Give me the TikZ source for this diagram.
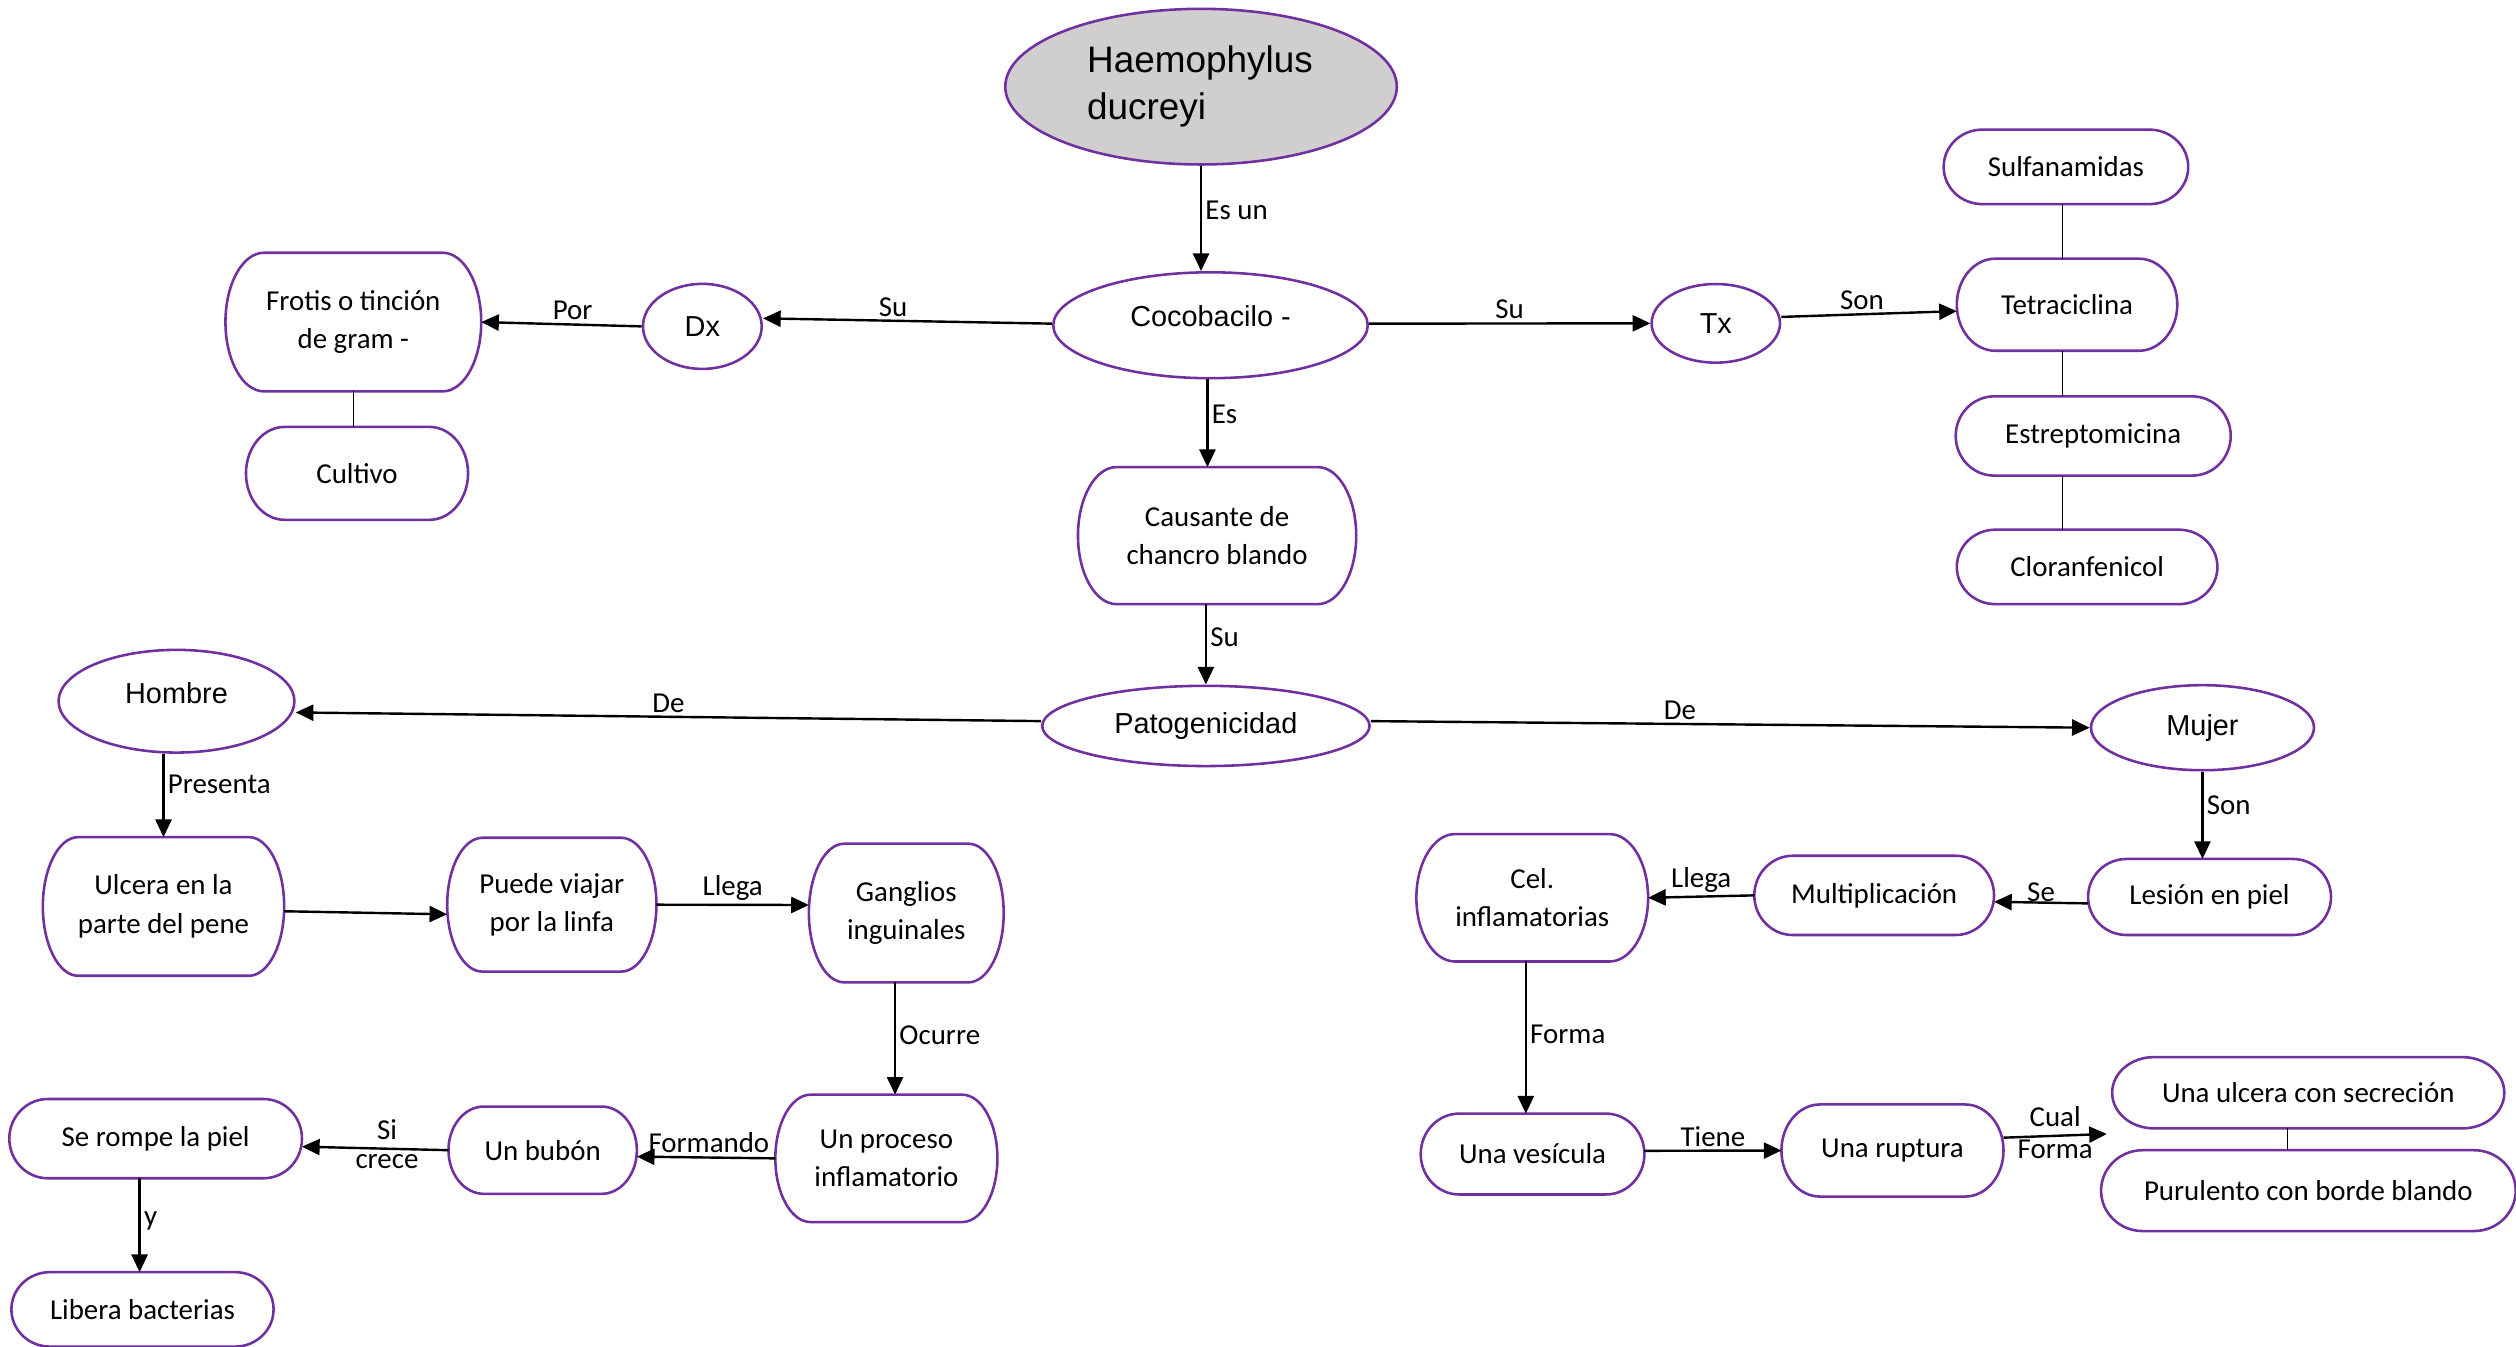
\documentclass[tikz,border=0pt]{standalone}
\usepackage{fontspec}
\setmainfont{Carlito}
\newfontfamily\arialf{Liberation Sans}
\usetikzlibrary{shapes.geometric,arrows.meta,calc}
\definecolor{purp}{HTML}{7030A0}
\definecolor{hgray}{HTML}{D0CECE}
\tikzset{
  ell/.style={ellipse, draw=purp, line width=1.6pt, inner sep=0pt, font=\arialf\fontsize{18}{22}\selectfont},
  tb/.style={rectangle, inner sep=0pt, align=center, font=\fontsize{18}{24}\selectfont},
  arr/.style={line width=1.5pt, -{Triangle[length=11pt,width=10pt]}},
  lbl/.style={font=\fontsize{18}{22}\selectfont, inner sep=2pt},
  link/.style={line width=0.6pt},
  bord/.style={draw=purp, line width=1.6pt}
}
\newcommand\stad[2]{%
  \draw[bord] let \p1=(#1.north west), \p2=(#1.south east), \n1={(\y1-\y2)/2} in
   (\x1+#2pt,\y1) -- (\x2-#2pt,\y1)
   arc[start angle=90,end angle=-90,x radius=#2pt,y radius=\n1]
   -- (\x1+#2pt,\y2)
   arc[start angle=270,end angle=90,x radius=#2pt,y radius=\n1] -- cycle;}
\begin{document}
\begin{tikzpicture}[x=1pt,y=1pt]
\useasboundingbox (0,0) rectangle (1568,-839);
% ellipses
\node[ell, fill=hgray, minimum width=244pt, minimum height=97pt, text width=142pt, align=left, font=\arialf\fontsize{23}{29.5}\selectfont] (hae) at (748.5,-54) {Haemophylus\\ducreyi};
\node[ell, minimum width=196pt, minimum height=66pt, text depth=11pt] (coco) at (754.4,-202.7) {Cocobacilo -};
\node[ell, minimum width=74pt, minimum height=53pt] (dx) at (437.7,-203.4) {Dx};
\node[ell, minimum width=80pt, minimum height=49pt] (tx) at (1069.3,-201.5) {Tx};
\node[ell, minimum width=204pt, minimum height=50pt] (pat) at (751.5,-452.4) {Patogenicidad};
\node[ell, minimum width=147pt, minimum height=64pt, text depth=10pt] (hom) at (110,-437) {Hombre};
\node[ell, minimum width=139pt, minimum height=53pt] (muj) at (1372.6,-453.5) {Mujer};
% boxes
\node[tb, minimum width=159pt, minimum height=86pt] (fro) at (220.2,-200.7) {Frotis o tinción\\de gram -};
\node[tb, minimum width=138pt, minimum height=57.5pt] (cul) at (222.5,-295) {Cultivo};
\node[tb, minimum width=152pt, minimum height=46pt] (sul) at (1287.5,-104) {Sulfanamidas};
\node[tb, minimum width=137pt, minimum height=57pt] (tet) at (1288.2,-189.9) {Tetraciclina};
\node[tb, minimum width=171pt, minimum height=49pt] (est) at (1304.5,-271.7) {Estreptomicina};
\node[tb, minimum width=162pt, minimum height=46pt] (clo) at (1300.7,-353.3) {Cloranfenicol};
\node[tb, minimum width=173pt, minimum height=85pt] (cau) at (758.5,-333.8) {Causante de\\chancro blando};
\node[tb, minimum width=150pt, minimum height=86pt] (ulc) at (101.9,-564.9) {Ulcera en la\\parte del pene};
\node[tb, minimum width=130pt, minimum height=83pt] (pue) at (343.9,-563.8) {Puede viajar\\por la linfa};
\node[tb, minimum width=121pt, minimum height=86pt] (gan) at (564.8,-569) {Ganglios\\inguinales};
\node[tb, minimum width=138pt, minimum height=79pt] (pro) at (552.4,-721.9) {Un proceso\\inflamatorio};
\node[tb, minimum width=117pt, minimum height=54pt] (bub) at (338.2,-716.8) {Un bubón};
\node[tb, minimum width=182pt, minimum height=49pt] (ser) at (97,-709.6) {Se rompe la piel};
\node[tb, minimum width=163pt, minimum height=46pt] (lib) at (88.8,-816) {Libera bacterias};
\node[tb, minimum width=151pt, minimum height=47pt] (les) at (1377,-559) {Lesión en piel};
\node[tb, minimum width=149pt, minimum height=49pt] (mul) at (1168,-558) {Multiplicación};
\node[tb, minimum width=144pt, minimum height=79pt] (cel) at (954.9,-559.5) {Cel.\\inflamatorias};
\node[tb, minimum width=139pt, minimum height=50pt] (ves) at (955.1,-719.2) {Una vesícula};
\node[tb, minimum width=138pt, minimum height=57pt] (rup) at (1179.4,-717) {Una ruptura};
\node[tb, minimum width=244pt, minimum height=44pt] (usc) at (1438.5,-681) {Una ulcera con secreción};
\node[tb, minimum width=258pt, minimum height=50pt] (pur) at (1438.6,-742) {Purulento con borde blando};
\foreach \bx/\rr in {fro/24,cul/24,sul/24,tet/24,est/24,clo/24,cau/24,ulc/22,pue/22,gan/22,pro/22,bub/22,ser/24,lib/24,les/24,mul/24,cel/24,ves/24,rup/24,usc/26,pur/26}{\stad{\bx}{\rr}}
% helper coordinates
\coordinate (cauT) at ([xshift=-6pt]cau.north);
\coordinate (ganB) at ([xshift=-7pt]gan.south);
\coordinate (serB) at ([xshift=-10pt]ser.south);
\coordinate (celB) at ([xshift=-4pt]cel.south);
\coordinate (sulB) at ([xshift=-2pt]sul.south);
\coordinate (uscB) at ([xshift=-13pt]usc.south);
\coordinate (cf) at (1313,-706.7);
% arrows
\draw[arr] (hae.south) -- node[lbl,right,pos=0.42]{Es un} (hae.south |- coco.north);
\draw[arr] ([yshift=1pt]coco.west) -- node[lbl,above,pos=0.55]{Su} ([yshift=5pt]dx.east);
\draw[arr] (dx.west) -- node[lbl,above,pos=0.43]{Por} (fro.east);
\draw[arr] ([yshift=1pt]coco.east) -- node[lbl,above,pos=0.5]{Su} (tx.west);
\draw[arr] ([yshift=4pt]tx.east) -- node[lbl,above,pos=0.46]{Son} ([yshift=-4pt]tet.west);
\draw[arr] (cauT |- coco.south) -- node[lbl,right,pos=0.4]{Es} (cauT);
\draw[arr] (pat.north |- cau.south) -- node[lbl,right,pos=0.41]{Su} (pat.north);
\draw[arr] ([yshift=3pt]pat.west) -- node[lbl,above,pos=0.5]{De} ([yshift=-7pt]hom.east);
\draw[arr] ([yshift=3pt]pat.east) -- node[lbl,above,pos=0.43]{De} (muj.west);
\draw[arr] (ulc.north |- hom.south) -- node[lbl,right,pos=0.37]{Presenta} (ulc.north);
\draw[arr] ([yshift=-3pt]ulc.east) -- ([yshift=-6pt]pue.west);
\draw[arr] (pue.east) -- node[lbl,above,pos=0.5]{Llega} ([yshift=5pt]gan.west);
\draw[arr] (ganB) -- node[lbl,right,pos=0.47]{Ocurre} (ganB |- pro.north);
\draw[arr] (pro.west) -- node[lbl,above,pos=0.48]{Formando} ([yshift=-4pt]bub.east);
\draw[arr] (bub.west) -- node[lbl,above,pos=0.42,yshift=3pt]{Si} node[lbl,below,pos=0.42,yshift=-1pt]{crece} ([yshift=-5pt]ser.east);
\draw[arr] (serB) -- node[lbl,right,pos=0.45]{y} (serB |- lib.north);
\draw[arr] (muj.south) -- node[lbl,right,pos=0.38]{Son} (muj.south |- les.north);
\draw[arr] ([yshift=-4pt]les.west) -- node[lbl,above,inner sep=0pt,pos=0.5]{Se} ([yshift=-4pt]mul.east);
\draw[arr] (mul.west) -- node[lbl,above,pos=0.5]{Llega} (cel.east);
\draw[arr] (celB) -- node[lbl,right,pos=0.48]{Forma} (celB |- ves.north);
\draw[arr] ([yshift=2pt]ves.east) -- node[lbl,above,pos=0.5]{Tiene} (rup.west);
\draw[arr] ([yshift=8pt]rup.east) -- node[lbl,above,pos=0.5,yshift=3pt]{Cual} node[lbl,below,pos=0.5]{Forma} (cf);
% plain links
\draw[link] (fro.south) -- (fro.south |- cul.north);
\draw[link] (sulB) -- (sulB |- tet.north);
\draw[link] (sulB |- tet.south) -- (sulB |- est.north);
\draw[link] (sulB |- est.south) -- (sulB |- clo.north);
\draw[link] (uscB) -- (uscB |- pur.north);
\end{tikzpicture}
\end{document}
